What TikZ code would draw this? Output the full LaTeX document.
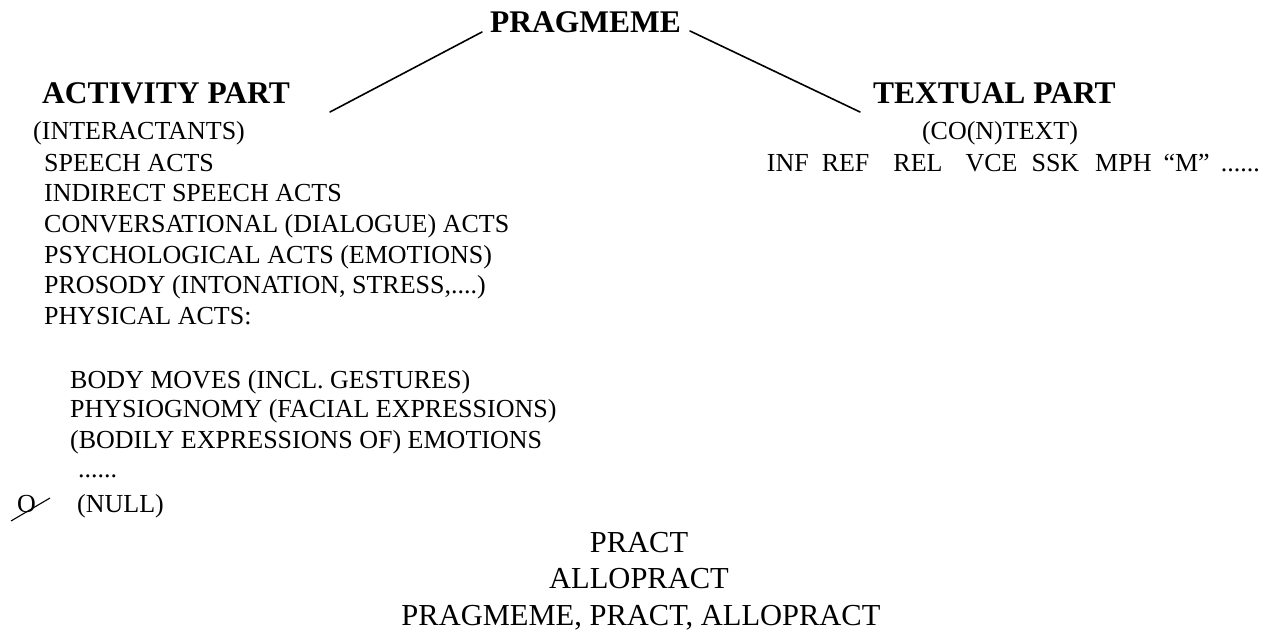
\documentclass[tikz,border=0pt]{standalone}
\usepackage{fontspec}
\setmainfont{Liberation Serif}
\begin{document}
\begin{tikzpicture}[x=1pt,y=1pt,
  reg/.style={anchor=base west,inner sep=0pt,font=\fontsize{26}{30}\selectfont},
  head/.style={anchor=base west,inner sep=0pt,font=\fontsize{31.5}{36}\selectfont\bfseries},
  big/.style={anchor=base,inner sep=0pt,font=\fontsize{30.5}{36}\selectfont},
  conn/.style={line width=1.6pt,line cap=round}]
\useasboundingbox (0,0) rectangle (1271,-631);
% headings
\node[head] (prag) at (490,-33) {PRAGMEME};
\node[head] (act) at (42,-104) {ACTIVITY PART};
\node[head] (txt) at (873,-104) {TEXTUAL PART};
% connectors
\coordinate (la) at (482,-32);
\coordinate (lb) at (330,-112);
\coordinate (ra) at (690,-31);
\coordinate (rb) at (860,-112);
\draw[conn] (la) -- (lb);
\draw[conn] (ra) -- (rb);
% activity part list
\node[reg] (inter) at (33,-140) {(INTERACTANTS)};
\node[reg] (sa) at (44,-172) {SPEECH ACTS};
\node[reg] (isa) at (44,-202) {INDIRECT SPEECH ACTS};
\node[reg] (conv) at (44,-233) {CONVERSATIONAL (DIALOGUE) ACTS};
\node[reg] (psy) at (44,-263) {PSYCHOLOGICAL ACTS (EMOTIONS)};
\node[reg] (pros) at (44,-293) {PROSODY (INTONATION, STRESS,....)};
\node[reg] (phys) at (44,-324) {PHYSICAL ACTS:};
\node[reg] (body) at (70,-388) {BODY MOVES (INCL. GESTURES)};
\node[reg] (phyg) at (70,-417) {PHYSIOGNOMY (FACIAL EXPRESSIONS)};
\node[reg] (bodily) at (70,-448) {(BODILY EXPRESSIONS OF) EMOTIONS};
\node[reg] (dots) at (78,-477) {......};
\node[reg] (null) at (77,-512) {(NULL)};
% null symbol
\node[reg] (nullo) at (17,-512) {O};
\coordinate (sa1) at (11,-521);
\coordinate (sa2) at (50,-498);
\draw[line width=1.1pt] (sa1) -- (sa2);
% textual part
\node[reg,anchor=base] (cont) at (1000,-140) {(CO(N)TEXT)};
\node[reg,anchor=base east] (inf) at (1260,-172) {INF\hspace{13pt}REF\hspace{24pt}REL\hspace{23pt}VCE\hspace{14pt}SSK\hspace{16pt}MPH\hspace{12pt}“M”\hspace{11pt}......};
% bottom
\node[big] (pract) at (639,-552) {PRACT};
\node[big] (allo) at (639,-588) {ALLOPRACT};
\node[big] (all) at (641,-625) {PRAGMEME, PRACT, ALLOPRACT};
\end{tikzpicture}
\end{document}
